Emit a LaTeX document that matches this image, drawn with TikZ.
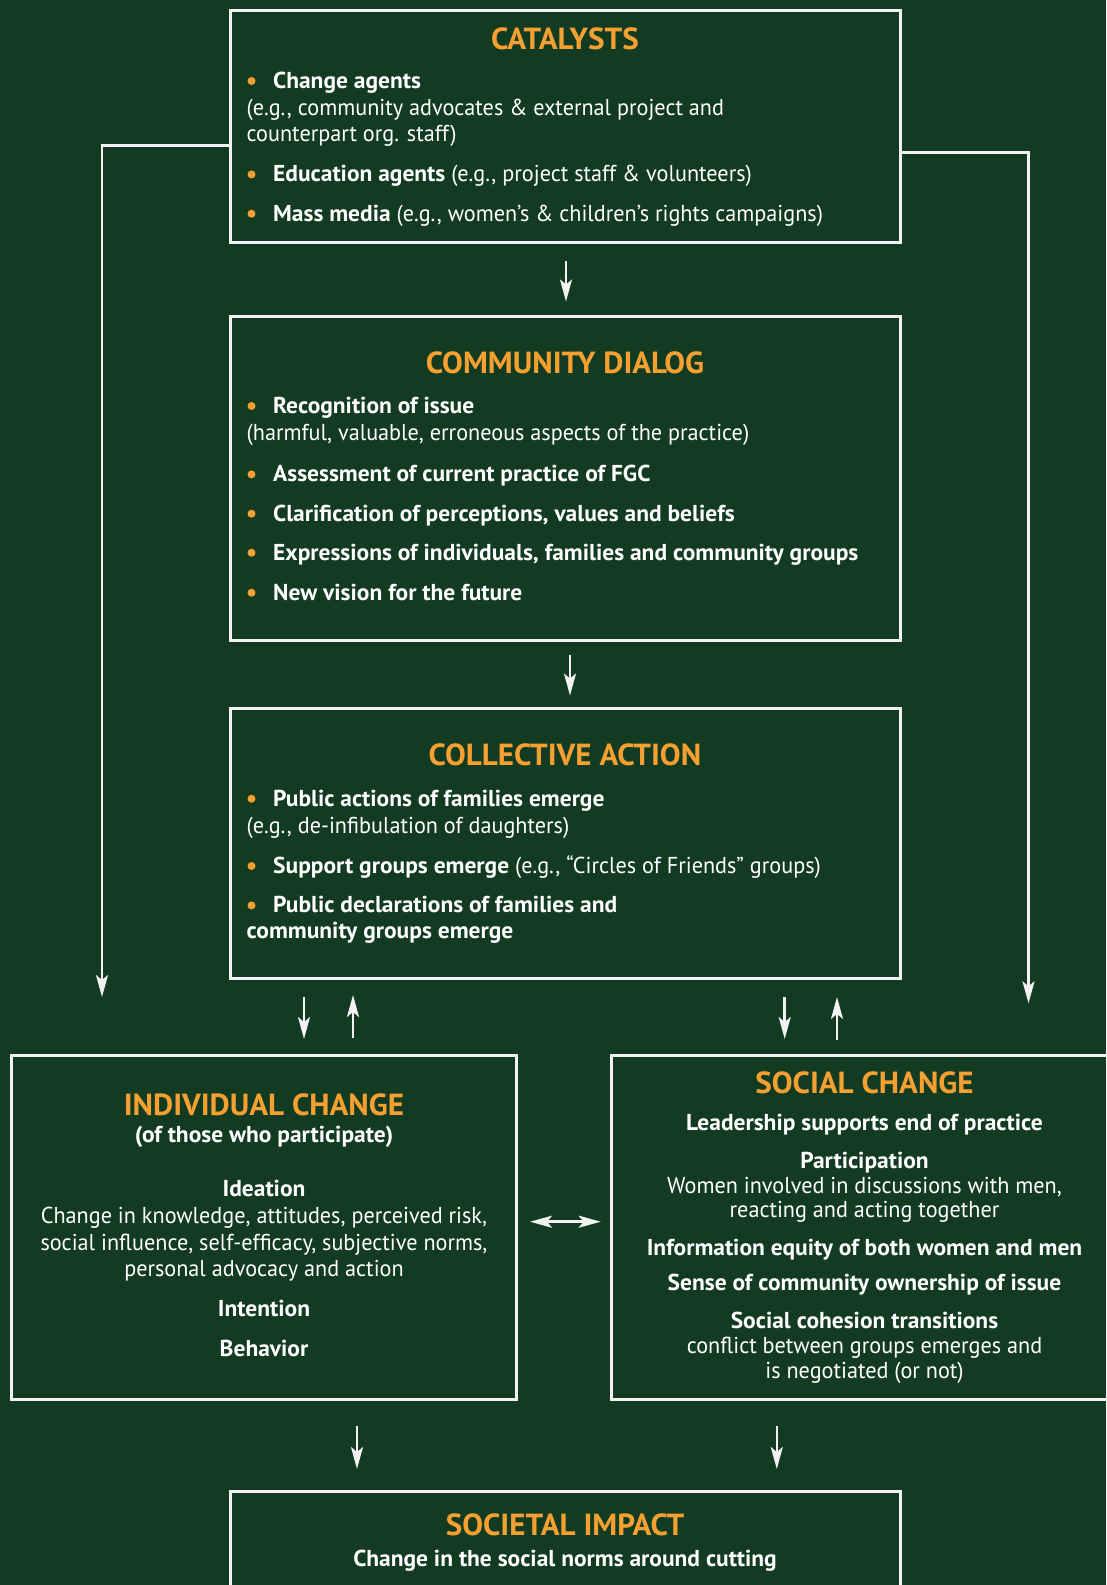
\documentclass[tikz,border=0pt]{standalone}
\usepackage{fontspec}
\setmainfont{PT Sans}[UprightFeatures={FakeStretch=0.965}, BoldFeatures={FakeStretch=1.02}]
\usetikzlibrary{arrows.meta}
\definecolor{bg}{RGB}{19,59,34}
\definecolor{org}{RGB}{246,160,49}
\definecolor{ln}{RGB}{242,242,242}
\tikzset{
  box/.style={draw=ln, line width=3pt, anchor=north west, inner sep=0pt, outer sep=0pt},
  ttl/.style={font=\fontsize{30.5}{32}\selectfont\bfseries, text=org, anchor=base, inner sep=0pt},
  bd/.style={font=\fontsize{23}{27}\selectfont\bfseries, text=white, anchor=base west, inner sep=0pt},
  rg/.style={font=\fontsize{23}{27}\selectfont, text=white, anchor=base west, inner sep=0pt},
  bdc/.style={bd, anchor=base},
  rgc/.style={rg, anchor=base},
  bul/.style={circle, fill=org, inner sep=0pt, minimum size=8pt},
  conn/.style={draw=ln, line width=2.5pt, -{Stealth[length=22pt,width=12pt,inset=5pt]}},
  conn2/.style={draw=ln, line width=2.5pt, {Stealth[length=22pt,width=12pt,inset=5pt]}-{Stealth[length=22pt,width=12pt,inset=5pt]}},
}
\begin{document}
\begin{tikzpicture}[x=1pt,y=-1pt]
\fill[bg] (0,0) rectangle (1106,1585);
\useasboundingbox (0,0) rectangle (1106,1585);

% boxes
\node[box, minimum width=670pt, minimum height=232.5pt] (cat) at (230.5,10) {};
\node[box, minimum width=670pt, minimum height=323.5pt] (dia) at (230.5,316.5) {};
\node[box, minimum width=670pt, minimum height=269.5pt] (col) at (230.5,708.5) {};
\node[box, minimum width=505pt, minimum height=343.5pt] (ind) at (11.5,1055.7) {};
\node[box, minimum width=520pt, minimum height=343.5pt] (soc) at (611,1055.7) {};
\node[box, minimum width=670pt, minimum height=120pt] (imp) at (230.5,1491.7) {};

% CATALYSTS
\node[ttl] (catT) at (565,49) {CATALYSTS};
\node[bul] (cb1) at (251.5,81) {};
\node[bd] (c1) at (273,88.3) {Change agents};
\node[rg] (c1a) at (246.5,115) {(e.g., community advocates \& external project and};
\node[rg] (c1b) at (246.5,141.7) {counterpart org. staff)};
\node[bul] (cb2) at (251.5,174.4) {};
\node[rg] (c2) at (273,181.7) {\textbf{Education agents} (e.g., project staff \& volunteers)};
\node[bul] (cb3) at (251.5,213.7) {};
\node[rg] (c3) at (273,221) {\textbf{Mass media} (e.g., women’s \& children’s rights campaigns)};

% COMMUNITY DIALOG
\node[ttl] (diaT) at (565,373.3) {COMMUNITY DIALOG};
\node[bul] (db1) at (251.5,406) {};
\node[bd] (d1) at (273,413.3) {Recognition of issue};
\node[rg] (d1a) at (246.5,440) {(harmful, valuable, erroneous aspects of the practice)};
\node[bul] (db2) at (251.5,474.4) {};
\node[bd] (d2) at (273,481.7) {Assessment of current practice of FGC};
\node[bul] (db3) at (251.5,513.7) {};
\node[bd] (d3) at (273,521) {Clarification of perceptions, values and beliefs};
\node[bul] (db4) at (251.5,552.7) {};
\node[bd] (d4) at (273,560) {Expressions of individuals, families and community groups};
\node[bul] (db5) at (251.5,592.7) {};
\node[bd] (d5) at (273,600) {New vision for the future};

% COLLECTIVE ACTION
\node[ttl] (colT) at (565,765) {COLLECTIVE ACTION};
\node[bul] (kb1) at (251.5,798.7) {};
\node[bd] (k1) at (273,806) {Public actions of families emerge};
\node[rg] (k1a) at (246.5,833.3) {(e.g., de-infibulation of daughters)};
\node[bul] (kb2) at (251.5,866) {};
\node[rg] (k2) at (273,873.3) {\textbf{Support groups emerge} (e.g., “Circles of Friends” groups)};
\node[bul] (kb3) at (251.5,905.4) {};
\node[bd] (k3) at (273,912.7) {Public declarations of families and};
\node[bd] (k3a) at (246.5,938.3) {community groups emerge};

% INDIVIDUAL CHANGE
\node[ttl] (indT) at (264,1115) {INDIVIDUAL CHANGE};
\node[bdc] (i0) at (264,1142.5) {(of those who participate)};
\node[bdc] (i1) at (264,1196) {Ideation};
\node[rgc] (i1a) at (264,1223.3) {Change in knowledge, attitudes, perceived risk,};
\node[rgc] (i1b) at (264,1250) {social influence, self-efficacy, subjective norms,};
\node[rgc] (i1c) at (264,1276) {personal advocacy and action};
\node[bdc] (i2) at (264,1316) {Intention};
\node[bdc] (i3) at (264,1356) {Behavior};

% SOCIAL CHANGE
\node[ttl] (socT) at (864.5,1093.3) {SOCIAL CHANGE};
\node[bdc] (s1) at (864.5,1130.7) {Leadership supports end of practice};
\node[bdc] (s2) at (864.5,1168.3) {Participation};
\node[rgc] (s2a) at (864.5,1193.3) {Women involved in discussions with men,};
\node[rgc] (s2b) at (864.5,1217.7) {reacting and acting together};
\node[bdc] (s3) at (864.5,1255) {Information equity of both women and men};
\node[bdc] (s4) at (864.5,1290.7) {Sense of community ownership of issue};
\node[bdc] (s5) at (864.5,1328.3) {Social cohesion transitions};
\node[rgc] (s5a) at (864.5,1353.3) {conflict between groups emerges and};
\node[rgc] (s5b) at (864.5,1378.3) {is negotiated (or not)};

% SOCIETAL IMPACT
\node[ttl] (impT) at (565,1535) {SOCIETAL IMPACT};
\node[bdc] (m1) at (565,1566.7) {Change in the social norms around cutting};

% connector end points
\coordinate (lA) at (230.5,145.3);
\coordinate (lB) at (102,997);
\coordinate (rA) at (900.5,152.7);
\coordinate (rB) at (1028.5,1003.3);
\coordinate (a1s) at (566,261);   \coordinate (a1e) at (566,301.5);
\coordinate (a2s) at (570,655);   \coordinate (a2e) at (570,695.5);
\coordinate (a3s) at (304,997);   \coordinate (a3e) at (304,1039);
\coordinate (a4s) at (353,1038);  \coordinate (a4e) at (353,995);
\coordinate (a5s) at (784.7,997); \coordinate (a5e) at (784.7,1039);
\coordinate (a6s) at (837,1040);  \coordinate (a6e) at (837,997);
\coordinate (hA) at (530,1221.7); \coordinate (hB) at (600.7,1221.7);
\coordinate (a7s) at (357,1426);  \coordinate (a7e) at (357,1469);
\coordinate (a8s) at (776.8,1426);\coordinate (a8e) at (776.8,1469);

\draw[conn] (lA) -| (lB);
\draw[conn] (rA) -| (rB);
\draw[conn] (a1s) -- (a1e);
\draw[conn] (a2s) -- (a2e);
\draw[conn] (a3s) -- (a3e);
\draw[conn] (a4s) -- (a4e);
\draw[conn] (a5s) -- (a5e);
\draw[conn] (a6s) -- (a6e);
\draw[conn2] (hA) -- (hB);
\draw[conn] (a7s) -- (a7e);
\draw[conn] (a8s) -- (a8e);
\end{tikzpicture}
\end{document}
